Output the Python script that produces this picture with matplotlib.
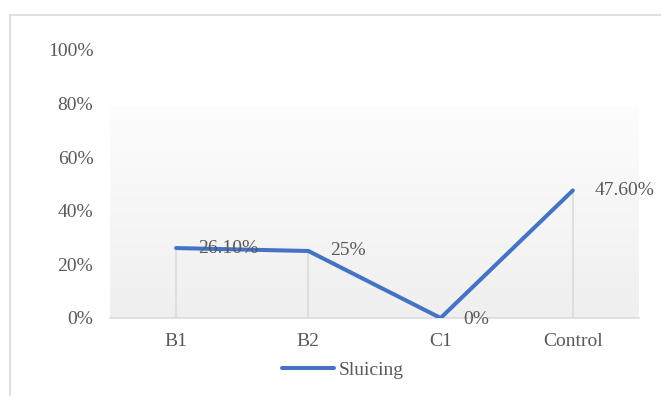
import matplotlib
matplotlib.use("Agg")
import matplotlib.pyplot as plt
import numpy as np
from matplotlib.patches import Rectangle

categories = ["B1", "B2", "C1", "Control"]
values = [26.1, 25.0, 0.0, 47.6]
labels = ["26.10%", "25%", "0%", "47.60%"]
yticks = [0, 20, 40, 60, 80, 100]
ytick_labels = ["0%", "20%", "40%", "60%", "80%", "100%"]
series_name = "Sluicing"

W, H = 661, 396
fig = plt.figure(figsize=(W / 100, H / 100), dpi=100)
plt.rcParams['font.family'] = ['Liberation Serif', 'DejaVu Serif']
gray = "#595959"
fs = 14

ax = fig.add_axes([110 / W, 1 - 318 / H, (639 - 110) / W, (318 - 50) / H])
ax.set_xlim(-0.5, len(categories) - 0.5)
ax.set_ylim(0, 100)

# gradient plot-area fill
grad_top = (318 - 108) / 268 * 100
g = np.linspace(0, 1, 256).reshape(-1, 1)
top_c = np.array([0xfd, 0xfd, 0xfd]) / 255
bot_c = np.array([0xef, 0xef, 0xef]) / 255
img = bot_c * (1 - g)[..., None] + top_c * g[..., None]
img = img.reshape(256, 1, 3)
ax.imshow(img, extent=[-0.5, len(categories) - 0.5, 0, grad_top], origin="lower",
          aspect="auto", zorder=0, interpolation="bilinear")

x = np.arange(len(categories))
ax.vlines(x, 0, values, color="#d9d9d9", lw=1.1, zorder=1)
line, = ax.plot(x, values, color="#4472C4", lw=2.9, solid_capstyle="round",
                solid_joinstyle="round", zorder=3, label=series_name)

for xi, v, lab in zip(x, values, labels):
    dy = -1 if v == 0 else 0
    ax.annotate(lab, (xi, v), xytext=(16, dy), textcoords="offset points",
                ha="left", va="center", fontsize=fs, color=gray, zorder=4)

for s in ["top", "right", "left"]:
    ax.spines[s].set_visible(False)
ax.spines["bottom"].set_color("#d9d9d9")
ax.spines["bottom"].set_linewidth(1.1)

ax.set_xticks(x)
ax.set_xticklabels(categories)
ax.set_yticks(yticks)
ax.set_yticklabels(ytick_labels)
ax.tick_params(axis="x", length=0, pad=10.5, labelsize=fs, labelcolor=gray)
ax.tick_params(axis="y", length=0, pad=12, labelsize=fs, labelcolor=gray)

fig.legend(handles=[line], labels=[series_name], loc="center",
           bbox_to_anchor=(343 / W, 1 - 370 / H), frameon=False, fontsize=fs,
           handlelength=2.7, handletextpad=0.25, labelcolor=gray)

# chart outer frame
fig.patches.append(Rectangle((10 / W, -0.2), 1.2, 1.2 - 15 / H + 0.0,
                             transform=fig.transFigure, fill=False,
                             edgecolor="#d9d9d9", lw=1.2))

fig.savefig("out.png", dpi=100)
